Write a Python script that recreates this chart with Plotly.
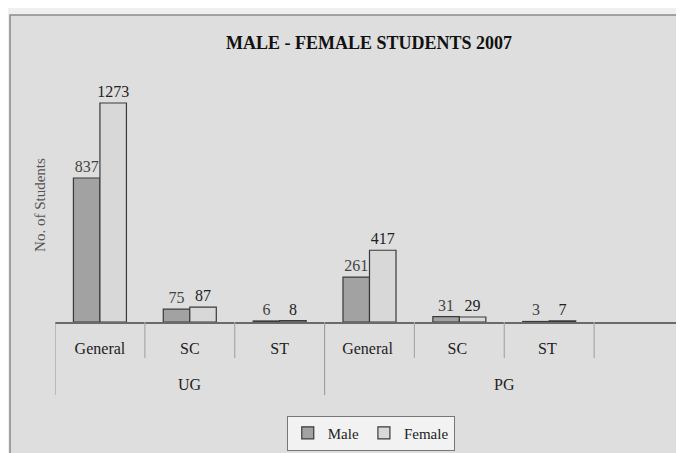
import plotly.graph_objects as go

categories = ["General", "SC", "ST", "General ", "SC ", "ST ", "  "]
group_names = ["UG", "PG"]
group_centers = [1, 4.5]
male = [837, 75, 6, 261, 31, 3, None]
female = [1273, 87, 8, 417, 29, 7, None]

font_family = "Liberation Serif, Times New Roman, serif"

fig = go.Figure()
fig.add_trace(go.Bar(
    x=categories, y=male, name="Male",
    marker=dict(color="#a2a2a2", line=dict(color="#3a3a3a", width=1.2)),
    text=[str(v) if v is not None else "" for v in male],
    textposition="outside", cliponaxis=False, constraintext="none",
    textfont=dict(family=font_family, size=16, color="#444444"),
))
fig.add_trace(go.Bar(
    x=categories, y=female, name="Female",
    marker=dict(color="#d8d8d8", line=dict(color="#3a3a3a", width=1.2)),
    text=[str(v) if v is not None else "" for v in female],
    textposition="outside", cliponaxis=False, constraintext="none",
    textfont=dict(family=font_family, size=16, color="#222222"),
))

fig.update_layout(
    width=676, height=445,
    margin=dict(l=47, r=0, t=52, b=131, autoexpand=False),
    paper_bgcolor="#efefef", plot_bgcolor="rgba(0,0,0,0)",
    barmode="group", bargap=0.41, bargroupgap=0,
    font=dict(family=font_family, size=16, color="#222222"),
    title=dict(text="<b>MALE - FEMALE STUDENTS 2007</b>", x=0.534, xanchor="center",
               y=0.921, yanchor="middle", font=dict(size=18, color="#111111")),
    showlegend=True,
    legend=dict(orientation="h", x=0.502, xanchor="center", y=-0.424, yanchor="middle",
                bgcolor="#f2f2f2", bordercolor="#777777", borderwidth=1,
                font=dict(size=15, color="#222222"), itemwidth=30, tracegroupgap=0),
)
fig.update_xaxes(
    type="category", range=[-0.5, 6.5], automargin=False,
    showline=True, linecolor="#6a6a6a", linewidth=1.5,
    ticks="", ticklabelstandoff=11, tickfont=dict(size=16, color="#222222"),
    showgrid=False,
)
fig.update_yaxes(
    range=[0, 1523], automargin=False, showticklabels=False, showgrid=False,
    zeroline=False, showline=False,
)
fig.add_annotation(text="No. of Students", textangle=-90, xref="paper", yref="paper",
                   x=-0.0238, y=0.447, xanchor="center", yanchor="middle", showarrow=False,
                   font=dict(size=15, color="#555555"))

# chart frame
fig.add_shape(type="rect", xref="paper", yref="paper", x0=-0.0715, x1=1.05, y0=-0.7, y1=1.172,
              line=dict(color="#8a8a8a", width=1.5), fillcolor="#dedede", layer="below")
# category separators
for b in [0.5, 1.5, 3.5, 4.5, 5.5]:
    fig.add_shape(type="line", xref="x", yref="paper", x0=b, x1=b, y0=0, y1=-0.137,
                  line=dict(color="#a8a8a8", width=1.2))
# group separators
for b in [-0.5, 2.5, 6.47]:
    fig.add_shape(type="line", xref="x", yref="paper", x0=b, x1=b, y0=0, y1=-0.279,
                  line=dict(color="#a0a0a0", width=1.2))
for name, c in zip(group_names, group_centers):
    fig.add_annotation(text=name, x=c, xref="x", y=-0.237, yref="paper", showarrow=False,
                       yanchor="middle", font=dict(size=16, color="#222222"))

fig.write_html("out.html")
